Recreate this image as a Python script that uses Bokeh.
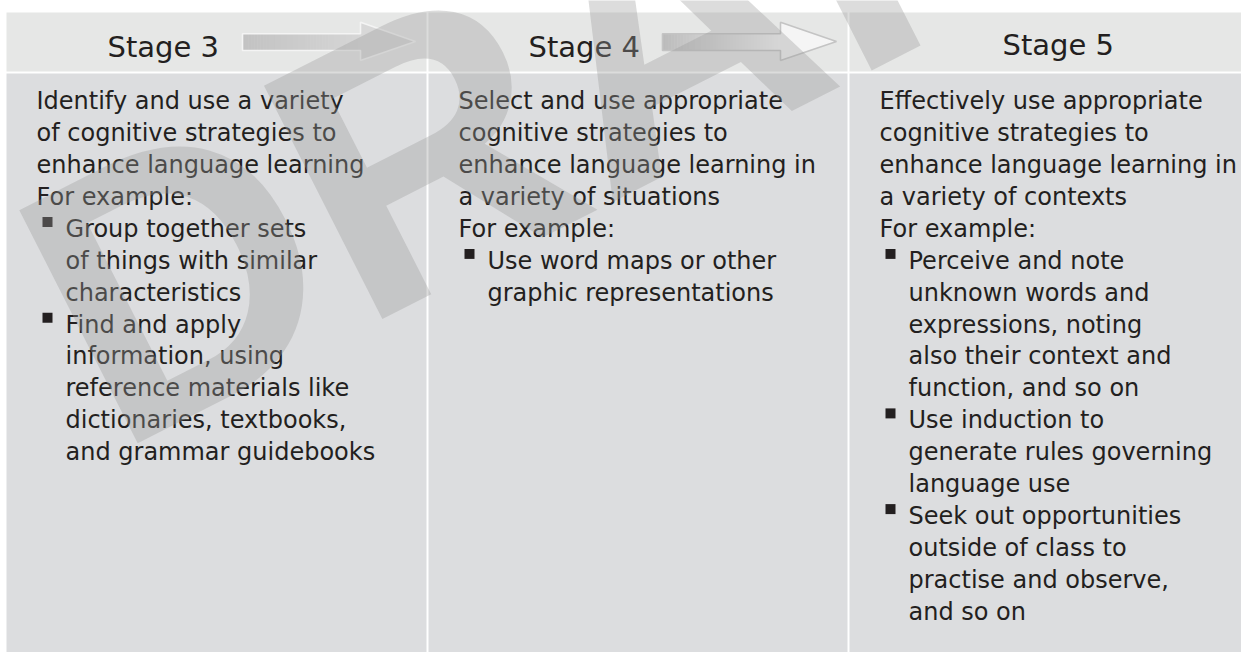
from bokeh.plotting import figure
from bokeh.models import Range1d
from bokeh.core.properties import value
from bokeh.embed import file_html
from bokeh.resources import INLINE

# ---------------- data ----------------
stages = ["Stage 3", "Stage 4", "Stage 5"]

stage3_intro = ["Identify and use a variety", "of cognitive strategies to",
                "enhance language learning", "For example:"]
stage3_bullets = [["Group together sets", "of things with similar", "characteristics"],
                  ["Find and apply", "information, using", "reference materials like",
                   "dictionaries, textbooks,", "and grammar guidebooks"]]

stage4_intro = ["Select and use appropriate", "cognitive strategies to",
                "enhance language learning in", "a variety of situations", "For example:"]
stage4_bullets = [["Use word maps or other", "graphic representations"]]

stage5_intro = ["Effectively use appropriate", "cognitive strategies to",
                "enhance language learning in", "a variety of contexts", "For example:"]
stage5_bullets = [["Perceive and note", "unknown words and", "expressions, noting",
                   "also their context and", "function, and so on"],
                  ["Use induction to", "generate rules governing", "language use"],
                  ["Seek out opportunities", "outside of class to",
                   "practise and observe,", "and so on"]]

watermark = "DRAFT"

# ---------------- layout (reference pixel space) ----------------
W, H = 1241, 652
col_left = [6, 428, 849]
col_right = [426, 847, 1262]
head_top, head_bot = 12, 71
body_top, body_bot = 73, 680
header_x = [107, 528, 1002]
header_y = [46.7, 46.7, 44.5]
text_indent = 30
bullet_indent = 29
first_base = 100.7
pitch = 31.9

TEXT_COL = "#231f20"
FONT = value("DejaVu Sans")

p = figure(width=W, height=H, x_range=Range1d(0, W), y_range=Range1d(H, 0),
           output_backend="svg", toolbar_location=None, min_border=0,
           x_axis_location=None, y_axis_location=None)
p.grid.visible = False
p.outline_line_color = None
p.background_fill_color = "white"
p.border_fill_color = "white"

# header & body cells
p.quad(left=col_left, right=col_right, top=[head_top] * 3, bottom=[head_bot] * 3,
       fill_color="#e6e7e6", line_color=None)
p.quad(left=col_left, right=col_right, top=[body_top] * 3, bottom=[body_bot] * 3,
       fill_color="#dcdddf", line_color=None)


def hexc(v):
    v = max(0, min(255, int(round(v))))
    return "#%02x%02x%02x" % (v, v, v)


# arrows between stages
def arrow(x0, x1, tip, c0, c1, head_fill, outline):
    n = 40
    lefts, rights, cols = [], [], []
    for i in range(n):
        a = x0 + (x1 - x0) * i / n
        b = x0 + (x1 - x0) * (i + 1) / n + 0.5
        t = i / (n - 1)
        lefts.append(a)
        rights.append(b)
        cols.append(hexc(c0 + (c1 - c0) * t))
    p.quad(left=lefts, right=rights, top=[33.3] * n, bottom=[50] * n,
           fill_color=cols, line_color=None)
    p.patch([x1 - 0.5, x1 - 0.5, tip, x1 - 0.5, x1 - 0.5],
            [33.3, 21.7, 41, 60, 50], fill_color=head_fill, line_color=None)
    p.patch([x0, x1, x1, tip, x1, x1, x0], [33.3, 33.3, 21.7, 41, 60, 50, 50],
            fill_color=None, line_color=outline, line_width=1.6)


arrow(242, 360, 415, 0xc2, 0xd6, "#d8d8d8", "#f4f4f4")
arrow(662, 780, 836, 0xbb, 0xf6, "#f5f5f5", "#c4c4c4")

# header texts
p.text(x=header_x, y=header_y, text=stages, text_font=FONT, text_font_size="29px",
       text_color=TEXT_COL, text_baseline="alphabetic", text_align="left")

# body texts
tx, ty, tt = [], [], []
bx, by = [], []
for ci, (intro, bullets) in enumerate([(stage3_intro, stage3_bullets),
                                       (stage4_intro, stage4_bullets),
                                       (stage5_intro, stage5_bullets)]):
    left = col_left[ci] + text_indent
    k = 0
    for line in intro:
        tx.append(left)
        ty.append(first_base + k * pitch)
        tt.append(line)
        k += 1
    for blist in bullets:
        bx.append(left + 11)
        by.append(first_base + k * pitch - 6.8)
        for line in blist:
            tx.append(left + bullet_indent)
            ty.append(first_base + k * pitch)
            tt.append(line)
            k += 1

p.text(x=tx, y=ty, text=tt, text_font=FONT, text_font_size="24px",
       text_color=TEXT_COL, text_baseline="alphabetic", text_align="left")
p.scatter(x=bx, y=by, marker="square", size=10, fill_color=TEXT_COL, line_color=None)

# watermark
p.text(x=[55], y=[337], text=[watermark], angle=0.47,
       text_font=value("Liberation Sans"), text_font_style="bold",
       text_font_size="380px", text_color="#9a9a9a", text_alpha=0.35,
       text_baseline="alphabetic", text_align="left")

open("out.html", "w").write(file_html(p, INLINE))
